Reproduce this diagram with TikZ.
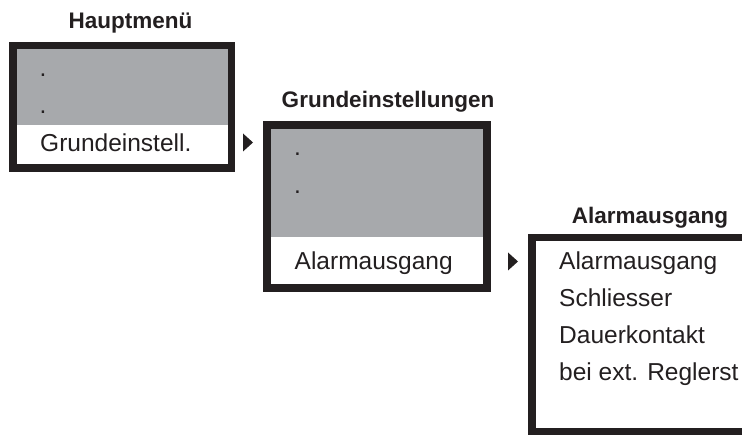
\documentclass[tikz,border=0pt]{standalone}
\usepackage{fontspec}
\setmainfont{Liberation Sans}
\usetikzlibrary{backgrounds}
\definecolor{menugray}{HTML}{A7A9AC}
\definecolor{inkblack}{HTML}{231F20}
\begin{document}
\begin{tikzpicture}[x=1pt, y=1pt,
        frame/.style={draw=inkblack, line width=7.5pt, inner sep=0pt, outer sep=0pt},
        entry/.style={anchor=base west, inner sep=0pt, text=inkblack, font=\fontsize{24.5}{29}\selectfont},
        title/.style={anchor=base, inner sep=0pt, text=inkblack, font=\bfseries\fontsize{22.5}{27}\selectfont},
        marker/.style={fill=inkblack}]
    \useasboundingbox (0,0) rectangle (742,435);
    \clip (0,0) rectangle (742,435);
    % menu frames
    \node[frame, minimum width=218.5pt, minimum height=122.8pt] (haupt) at (122,328.15) {};
    \node[frame, minimum width=220pt, minimum height=162.8pt] (grund) at (377,228.4) {};
    \node[frame, minimum width=267.75pt, minimum height=193.75pt] (alarm) at (666.1,100.4) {};
    \begin{scope}[on background layer]
        \fill[menugray] (haupt.north west) rectangle (haupt.east |- 0,310);
        \fill[menugray] (grund.north west) rectangle (grund.east |- 0,198.3);
    \end{scope}
    % titles
    \node[title] (t1) at (130.5,406.7) {Hauptmenü};
    \node[title] (t2) at (388,327) {Grundeinstellungen};
    \node[title] (t3) at (650,211) {Alarmausgang};
    % entries
    \node[entry] (h1) at (39.5,358.7) {.};
    \node[entry] (h2) at (39.5,321.7) {.};
    \node[entry] (h3) at (40,283.5) {Grundeinstell.};
    \node[entry] (g1) at (294,279.7) {.};
    \node[entry] (g2) at (294,241.7) {.};
    \node[entry] (g3) at (294.5,165) {Alarmausgang};
    \node[entry] (a1) at (559,165) {Alarmausgang};
    \node[entry] (a2) at (559,128) {Schliesser};
    \node[entry] (a3) at (559,91) {Dauerkontakt};
    \node[entry] (a4) at (559,54) {bei ext. Reglerst};
    % selection markers
    \coordinate (m1) at (248,292.5);
    \coordinate (m2) at (513,173.5);
    \foreach \m in {m1,m2}
        \fill[marker, shift={(\m)}] (-5,9) -- (5,0) -- (-5,-9) -- cycle;
\end{tikzpicture}
\end{document}
